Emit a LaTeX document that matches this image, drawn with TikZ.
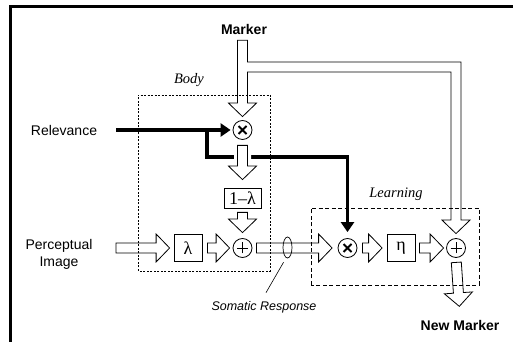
\documentclass[tikz,border=0pt]{standalone}
\usepackage{fontspec}
\setmainfont{Liberation Serif}
\setsansfont{Liberation Sans}
\usepackage{tikz}
\usetikzlibrary{arrows.meta,calc,shapes.geometric}

% sizes of the hollow (block) arrows
\newcommand{\harrw}{5pt}
\newcommand{\harrh}{14pt}
\newcommand{\harrl}{13.5pt}

\tikzset{
  gapa/.store in=\hgapa, gapb/.store in=\hgapb, gapa=4pt, gapb=4pt,
  hollowline/.style={draw, fill=white, line width=0.8pt, line join=miter},
  hollow/.style={hollowline,
    to path={let \p1=($(\tikztostart)!\hgapa!(\tikztotarget)$),
                 \p2=($(\tikztotarget)!\hgapb!(\tikztostart)$),
                 \n1={atan2(\y2-\y1,\x2-\x1)}, \n2={\n1+90}, \n3={\n1-90}, \n4={\n1+180} in
      ($(\p1)+(\n2:\harrw)$) -- ($(\p2)+(\n4:\harrl)+(\n2:\harrw)$) -- ($(\p2)+(\n4:\harrl)+(\n2:\harrh)$)
      -- (\p2) -- ($(\p2)+(\n4:\harrl)+(\n3:\harrh)$) -- ($(\p2)+(\n4:\harrl)+(\n3:\harrw)$)
      -- ($(\p1)+(\n3:\harrw)$) -- cycle}},
  over/.style={preaction={draw=white, line width=7pt}},
}

\begin{document}
\begin{tikzpicture}[x=1pt, y=1pt,
  lbl/.style={font=\sffamily\fontsize{14}{17}\selectfont, align=center},
  boldlbl/.style={font=\sffamily\bfseries\fontsize{14}{17}\selectfont},
  grouplbl/.style={font=\itshape\fontsize{14.5}{17}\selectfont},
  opbox/.style={draw, line width=0.8pt, minimum width=28pt, minimum height=27pt, inner sep=0pt, font=\fontsize{18}{18}\selectfont},
  mulnode/.style={circle, draw, line width=0.8pt, minimum size=19pt, inner sep=0pt,
    path picture={\draw[line width=1.8pt]
      ([shift={(-4pt,-4pt)}]path picture bounding box.center) -- ([shift={(4pt,4pt)}]path picture bounding box.center)
      ([shift={(-4pt,4pt)}]path picture bounding box.center) -- ([shift={(4pt,-4pt)}]path picture bounding box.center);}},
  addnode/.style={circle, draw, line width=0.8pt, minimum size=19pt, inner sep=0pt,
    path picture={\draw[line width=0.8pt]
      ([xshift=-5.5pt]path picture bounding box.center) -- ([xshift=5.5pt]path picture bounding box.center)
      ([yshift=-5.5pt]path picture bounding box.center) -- ([yshift=5.5pt]path picture bounding box.center);}},
  relarrow/.style={line width=3.3pt, line join=miter, -{Triangle[width=13pt,length=10pt]}},
  bodybox/.style={line width=0.7pt, dash pattern=on 2pt off 1.5pt},
  learnbox/.style={line width=0.7pt, dash pattern=on 4pt off 2.5pt},
]
\useasboundingbox (0,0) rectangle (513,342);
\draw[line width=3pt, line join=miter] (10,0) -- (10,335.3) -- (513,335.3);

% labels and operators
\node[lbl] (rel) at (64,212) {Relevance};
\node[lbl] (perc) at (59,88) {Perceptual\\Image};
\node[boldlbl] (marker) at (244,312) {Marker};
\node[boldlbl] (newm) at (460,17) {New Marker};
\node[grouplbl] (bodylbl) at (189,262) {Body};
\node[grouplbl] (learnlbl) at (396,148) {Learning};
\node[font=\sffamily\itshape\fontsize{12.5}{15}\selectfont] (soma) at (264,35) {Somatic Response};

\node[mulnode] (mul1) at (242.5,212) {};
\node[opbox, minimum width=37pt, minimum height=20pt] (omlam) at (242.5,144) {1–λ};
\node[addnode] (add1) at (242.5,94) {};
\node[opbox] (lam) at (188,94) {λ};
\node[mulnode] (mul2) at (347.5,94) {};
\node[opbox] (eta) at (401,94) {η};
\node[addnode] (add2) at (456,94) {};

\coordinate (relout) at (116,212);
\coordinate (relsplit) at (207,212);
\coordinate (percout) at (116,94);

% relevance signal
\draw[relarrow, shorten >=2pt] (relout) -- (mul1);
\draw[relarrow, shorten >=6pt] (relsplit) -- ++(0,-27) -| (mul2);

% signal flow
\draw[hollow, gapa=0pt, gapb=4pt] (percout) to (lam.west);
\draw[hollow, gapa=5pt, gapb=3pt] (lam.east) to (add1.west);
\draw[hollow, gapa=4pt, gapb=5.5pt] (add1.east) to (mul2.west);
\draw[hollow, gapa=5pt, gapb=4.5pt] (mul2.east) to (eta.west);
\draw[hollow, gapa=4pt, gapb=2.5pt] (eta.east) to (add2.west);
\draw[hollow, gapa=4.5pt, gapb=10pt] (add2.south) to (newm.north);
\draw[hollow, over, gapa=5.5pt, gapb=8pt] (mul1.south) to (omlam.north);
\draw[hollow, gapa=4pt, gapb=5.5pt] (omlam.south) to (add1.north);

% marker, split to body and learning
\draw[hollowline] let \p1=(mul1.north), \p2=(add2.north), \p3=(marker.south) in
  (\x1-\harrw,\y3-1.5pt) -- (\x1-\harrw,\y1+17pt) -- (\x1-\harrh,\y1+17pt) -- (\x1,\y1+3.5pt)
  -- (\x1+\harrh,\y1+17pt) -- (\x1+\harrw,\y1+17pt) -- (\x1+\harrw,270pt) -- (\x2-\harrw,270pt)
  -- (\x2-\harrw,\y2+18pt) -- (\x2-\harrh,\y2+18pt) -- (\x2,\y2+4.5pt) -- (\x2+\harrh,\y2+18pt)
  -- (\x2+\harrw,\y2+18pt) -- (\x2+\harrw,280pt) -- (\x1+\harrw,280pt) -- (\x1+\harrw,\y3-1.5pt) -- cycle;

% somatic response tap
\node[ellipse, draw, line width=0.7pt, minimum width=9pt, minimum height=21pt, inner sep=0pt] (somring) at (287.5,94.5) {};
\draw[line width=0.6pt] ([shift={(-4pt,-4pt)}]somring.south) -- ([shift={(2pt,5pt)}]soma.north);

% groups
\draw[bodybox] (138,71) rectangle (270,247);
\draw[learnbox] (311,57) rectangle (479,134);
\end{tikzpicture}
\end{document}
